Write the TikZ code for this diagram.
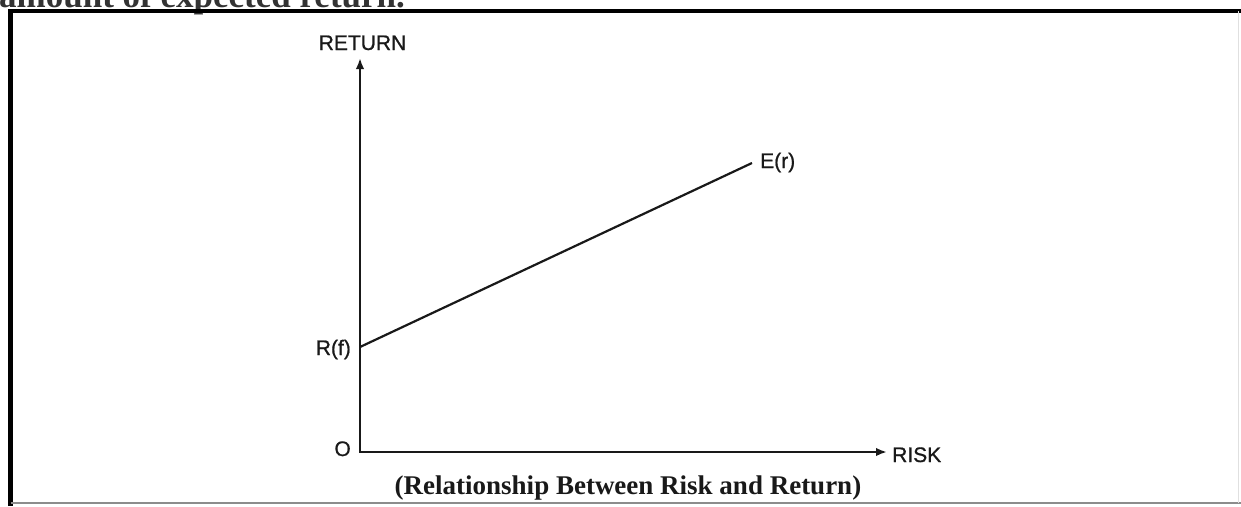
\documentclass[tikz,border=0pt]{standalone}
\usepackage{fontspec}
\setmainfont{Liberation Serif}
\newfontfamily\labfont[FakeBold=0.8]{Liberation Sans}
\usetikzlibrary{arrows.meta}
\begin{document}
\begin{tikzpicture}[x=1pt,y=-1pt,
  lbl/.style={font=\labfont\fontsize{21}{25}\selectfont, inner sep=0pt, text=black!90},
  axisline/.style={line width=2.6pt, line join=miter, black!90},
]
\useasboundingbox (0,0) rectangle (1241,506);
\fill[white] (0,0) rectangle (1241,506);
% text cut off at the top
\node[anchor=base west, inner sep=0pt, font=\bfseries\fontsize{35}{40}\selectfont, text=black!80] (toptext) at (-1,7) {amount of expected return.};
% frame
\draw[line width=4.5pt, black] (10.5,506) -- (10.5,11) -- (1241,11);
\draw[line width=1.5pt, black!45] (10.5,503) -- (1241,503);
\draw[line width=1pt, black!12] (1238.5,11) -- (1238.5,503);
% axes
\coordinate (O) at (360,452);
\coordinate (ytip) at (360,58);
\coordinate (xtip) at (887,452);
\coordinate (Rfpt) at (360,347);
\coordinate (Erpt) at (752,163);
\draw[axisline, {Latex[length=11pt,width=8.5pt]}-{Latex[length=11pt,width=8.5pt]}] (ytip) -- (O) -- (xtip);
\draw[line width=2.2pt, black!90] (Rfpt) -- (Erpt);
% labels
\node[lbl, anchor=base] (ret) at (362.5,50) {RETURN};
\node[lbl, anchor=base west] (er) at (760,168) {E(r)};
\node[lbl, anchor=base east] (rf) at (351,355) {R(f)};
\node[lbl, anchor=base east] (o) at (351,456) {O};
\node[lbl, anchor=base west] (risk) at (892,462) {RISK};
\node[anchor=base, inner sep=0pt, font=\bfseries\fontsize{27}{32}\selectfont, text=black!90] (cap) at (628,494) {(Relationship Between Risk and Return)};
\end{tikzpicture}
\end{document}
